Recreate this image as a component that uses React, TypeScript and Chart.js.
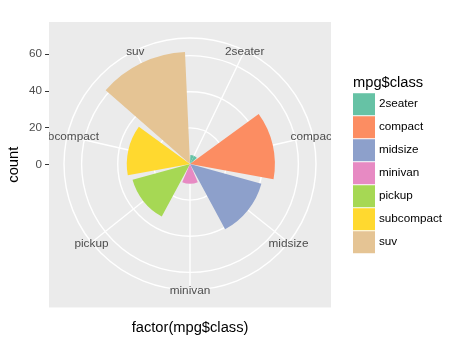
import React, { useEffect, useRef } from 'react';
import { Chart, registerables } from 'chart.js';

Chart.register(...registerables);

const classes = ['2seater', 'compact', 'midsize', 'minivan', 'pickup', 'subcompact', 'suv'];
const counts = [5, 47, 41, 11, 33, 35, 62];
const colors = ['#66C2A5', '#FC8D62', '#8DA0CB', '#E78AC3', '#A6D854', '#FFD92F', '#E5C494'];
const yTicks = [0, 20, 40, 60];
const rGrid = [20, 40, 60];
const legendTitle = 'mpg$class';

const FONT = "'Liberation Sans', Arial, Helvetica, sans-serif";

export default function App() {
  const ref = useRef<HTMLCanvasElement>(null);

  useEffect(() => {
    if (!ref.current) return;
    const n = classes.length;
    const step = 360 / n;
    const barW = 0.9 * step;
    const gapW = step - barW;
    const yMaxData = Math.max(...counts);
    const rOuter = (yMaxData * 0.45) / 0.4;
    const rEdge = (yMaxData * 0.5) / 0.4;

    // first class split in two halves so the spokes sit at the bar centres
    const labels: string[] = [];
    const values: number[] = [];
    const bg: string[] = [];
    const angles: number[] = [];
    classes.forEach((c, i) => {
      labels.push(c);
      values.push(counts[i]);
      bg.push(colors[i]);
      angles.push(i === 0 ? barW / 2 : barW);
      labels.push('');
      values.push(0);
      bg.push('rgba(0,0,0,0)');
      angles.push(gapW);
    });
    labels.push(classes[0]);
    values.push(counts[0]);
    bg.push(colors[0]);
    angles.push(barW / 2);

    const panelPlugin = {
      id: 'ggpanel',
      beforeDraw(chart: any) {
        const { ctx, chartArea: a } = chart;
        ctx.save();
        ctx.fillStyle = '#EBEBEB';
        ctx.fillRect(a.left, a.top, a.right - a.left, a.bottom - a.top);
        ctx.restore();
      },
      beforeDatasetsDraw(chart: any) {
        const s = chart.scales.r;
        const ctx = chart.ctx;
        const d = s.getDistanceFromCenterForValue(rOuter);
        ctx.save();
        ctx.strokeStyle = '#FFFFFF';
        ctx.lineWidth = 1.4;
        classes.forEach((_, i) => {
          const p = s.getPointPosition(i, d);
          ctx.beginPath();
          ctx.moveTo(s.xCenter, s.yCenter);
          ctx.lineTo(p.x, p.y);
          ctx.stroke();
        });
        ctx.restore();
      },
      afterDatasetsDraw(chart: any) {
        const s = chart.scales.r;
        const a = chart.chartArea;
        const ctx = chart.ctx;
        const d = s.getDistanceFromCenterForValue(rOuter);
        ctx.save();
        ctx.beginPath();
        ctx.rect(a.left, a.top, a.right - a.left, a.bottom - a.top);
        ctx.clip();
        ctx.fillStyle = '#4D4D4D';
        ctx.font = `11.8px ${FONT}`;
        ctx.textAlign = 'center';
        ctx.textBaseline = 'middle';
        classes.forEach((c, i) => {
          const p = s.getPointPosition(i, d);
          ctx.fillText(c, p.x, p.y + 1);
        });
        ctx.restore();
      },
    };

    const legendPlugin = {
      id: 'gglegend',
      afterDraw(chart: any) {
        const a = chart.chartArea;
        const ctx = chart.ctx;
        const x0 = a.right + 22;
        const keyPitch = 23;
        const keySize = 22;
        const titleH = 18;
        const blockH = titleH + classes.length * keyPitch;
        const y0 = (a.top + a.bottom) / 2 - blockH / 2;
        ctx.save();
        ctx.textAlign = 'left';
        ctx.textBaseline = 'middle';
        ctx.fillStyle = '#000000';
        ctx.font = `14.7px ${FONT}`;
        ctx.fillText(legendTitle, x0, y0 + 8);
        ctx.font = `11.7px ${FONT}`;
        classes.forEach((c, i) => {
          const ky = y0 + titleH + i * keyPitch;
          ctx.fillStyle = colors[i];
          ctx.fillRect(x0, ky, keySize, keySize);
          ctx.fillStyle = '#000000';
          ctx.fillText(c, x0 + keySize + 4, ky + keySize / 2);
        });
        ctx.restore();
      },
    };

    const chart = new Chart(ref.current, {
      type: 'polarArea',
      data: {
        labels,
        datasets: [
          {
            data: values,
            backgroundColor: bg,
            borderWidth: 0,
            angle: angles,
          } as any,
        ],
      },
      options: {
        responsive: false,
        devicePixelRatio: 1,
        animation: false,
        events: [],
        layout: { padding: { left: 2, top: 22, right: 129, bottom: 9.9 } },
        plugins: {
          tooltip: { enabled: false },
          legend: { display: false },
        },
        scales: {
          r: {
            type: 'radialLinear',
            min: 0,
            max: rEdge,
            startAngle: step / 2,
            labels: classes,
            afterBuildTicks: (s: any) => {
              s.ticks = [0, ...rGrid, rOuter].map((v) => ({ value: v }));
            },
            grid: { circular: true, color: '#FFFFFF', lineWidth: 1.4 },
            angleLines: { display: false },
            pointLabels: { display: false },
            ticks: { display: false },
          } as any,
          y: {
            type: 'linear',
            position: 'left',
            min: -rEdge,
            max: rEdge,
            afterBuildTicks: (s: any) => {
              s.ticks = yTicks.map((v) => ({ value: v }));
            },
            grid: { drawOnChartArea: false, drawTicks: true, tickLength: 4, color: '#333333', lineWidth: 1 },
            border: { display: false },
            ticks: { color: '#4D4D4D', font: { family: FONT, size: 11.7 }, padding: 3 },
            title: {
              display: true,
              text: 'count',
              color: '#000000',
              font: { family: FONT, size: 14.7 },
              padding: { top: 3.2, bottom: 3.2 },
            },
          },
          x: {
            type: 'linear',
            position: 'bottom',
            min: 0,
            max: 1,
            grid: { display: false, drawTicks: false },
            border: { display: false },
            ticks: { display: false },
            title: {
              display: true,
              text: 'factor(mpg$class)',
              color: '#000000',
              font: { family: FONT, size: 14.7 },
              padding: { top: 12, bottom: 13 },
            },
          },
        } as any,
      },
      plugins: [panelPlugin, legendPlugin],
    });

    return () => chart.destroy();
  }, []);

  return (
    <div style={{ position: 'fixed', left: 0, top: 0, width: 460, height: 360 }}>
      <canvas ref={ref} width={460} height={360} style={{ display: 'block' }} />
    </div>
  );
}
